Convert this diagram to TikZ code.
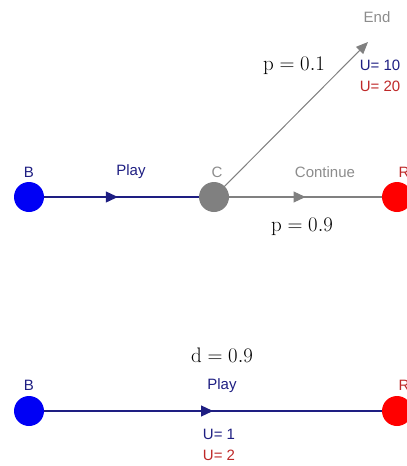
\documentclass[tikz,border=0pt]{standalone}
\usepackage{fontspec}
\setsansfont{Liberation Sans}
\usetikzlibrary{arrows.meta,decorations.markings}
\definecolor{navy}{RGB}{30,30,130}
\definecolor{dotblue}{RGB}{0,0,245}
\definecolor{greyc}{RGB}{128,128,128}
\definecolor{redc}{RGB}{255,0,0}
\definecolor{utwo}{RGB}{190,40,40}
\definecolor{txtgrey}{RGB}{140,140,140}
\tikzset{
  dot/.style={circle, inner sep=0pt, minimum size=30pt},
  lab/.style={font=\sffamily\fontsize{15}{17}\selectfont, inner sep=0pt},
  mathlab/.style={font=\fontsize{21}{24}\selectfont, inner sep=0pt},
  midarrow/.style={postaction={decorate}, decoration={markings,
     mark=at position #1 with {\arrow{Triangle[length=12pt,width=11pt]}}}},
  edge/.style={line width=1.2pt}
}
\begin{document}
\begin{tikzpicture}[x=1pt,y=-1pt]
\useasboundingbox (0,0) rectangle (407,466);
\clip (0,0) rectangle (407,466);
% top tree
\coordinate (Bt) at (29,197);
\coordinate (Ct) at (214,197);
\coordinate (Rt) at (397,197);
\coordinate (Et) at (368,42);
\draw[edge, navy, midarrow=0.48] (Bt) -- (Ct);
\draw[edge, greyc, midarrow=0.5] (Ct) -- (Rt);
\draw[line width=1pt, greyc, -{Triangle[length=12pt,width=10pt]}] (Ct) -- (Et);
\node[dot, fill=dotblue] (B1) at (Bt) {};
\node[dot, fill=greyc] (C1) at (Ct) {};
\node[dot, fill=redc] (R1) at (Rt) {};
\node[lab, text=navy] (lB1) at (29,172) {B};
\node[lab, text=navy] (lP1) at (131,172) {Play};
\node[lab, text=txtgrey] (lC1) at (217,172) {C};
\node[lab, text=txtgrey] (lCo) at (325,172) {Continue};
\node[lab, text=utwo] (lR1) at (404,172) {R};
\node[lab, text=txtgrey] (lE) at (377,17) {End};
\node[lab, text=navy] (u10) at (380,65) {U= 10};
\node[lab, text=utwo] (u20) at (380,86) {U= 20};
\node[mathlab] (p1) at (294,66) {$\mathrm{p}=0.1$};
\node[mathlab] (p9) at (302,227) {$\mathrm{p}=0.9$};
% bottom tree
\coordinate (Bb) at (29,411);
\coordinate (Rb) at (397,411);
\draw[edge, navy, midarrow=0.5] (Bb) -- (Rb);
\node[dot, fill=dotblue] (B2) at (Bb) {};
\node[dot, fill=redc] (R2) at (Rb) {};
\node[lab, text=navy] (lB2) at (29,385) {B};
\node[lab, text=navy] (lP2) at (222,386) {Play};
\node[lab, text=utwo] (lR2) at (404,385) {R};
\node[mathlab] (d9) at (222,355) {$\mathrm{d}=0.9$};
\node[lab, text=navy] (u1) at (219,434) {U= 1};
\node[lab, text=utwo] (u2) at (219,455) {U= 2};
\end{tikzpicture}
\end{document}
